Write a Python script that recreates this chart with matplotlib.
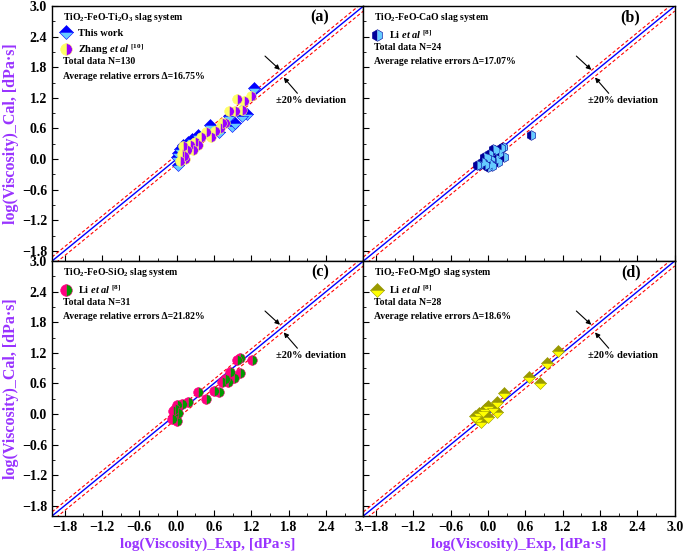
import numpy as np
import matplotlib
matplotlib.use("Agg")
import matplotlib.pyplot as plt
from matplotlib.ticker import MultipleLocator

plt.rcParams['font.family'] = 'Liberation Serif'
plt.rcParams['font.weight'] = 'bold'
plt.rcParams['axes.labelweight'] = 'bold'
plt.rcParams['mathtext.fontset'] = 'custom'
plt.rcParams['mathtext.rm'] = 'Liberation Serif:bold'
plt.rcParams['mathtext.it'] = 'Liberation Serif:italic:bold'
plt.rcParams['mathtext.bf'] = 'Liberation Serif:bold'

# ---- data: (exp, cal) ----
a_work_exp = [0.00, 0.05, 0.19, 0.35, 0.53, 0.89, 1.13, 1.25, 0.03, 0.84, 0.94, 0.10, 0.24, 0.68, 1.05, 0.02, 0.08]
a_work_cal = [0.04, 0.20, 0.34, 0.48, 0.66, 0.64, 0.88, 1.39, -0.12, 0.84, 0.70, 0.27, 0.40, 0.54, 0.84, 0.12, 0.05]
a_zhang_exp = [0.08, 0.13, 0.10, 0.21, 0.29, 0.40, 0.48, 0.56, 0.70, 0.78, 0.84, 0.94, 0.97, 1.08, 1.19,
               1.05, 0.73, 0.27, 0.35, 0.17, 0.62, 0.05, 0.12]
a_zhang_cal = [0.10, 0.00, 0.25, 0.28, 0.34, 0.44, 0.54, 0.44, 0.60, 0.70, 0.94, 0.94, 1.17, 1.13, 1.23,
               0.97, 0.70, 0.18, 0.27, 0.17, 0.56, -0.03, 0.06]
b_exp = [0.69, 0.24, 0.26, 0.08, 0.01, -0.07, -0.15, -0.10, 0.00, 0.13, 0.16, 0.05, -0.02, 0.11,
         0.18, -0.05, -0.18, 0.03, 0.21, 0.06]
b_cal = [0.48, 0.24, 0.04, 0.20, 0.10, 0.04, -0.12, -0.05, -0.15, 0.00, -0.06, -0.02, 0.02, 0.17,
         0.11, -0.12, -0.12, -0.09, 0.21, -0.13]
c_exp = [1.21, 1.02, 0.97, 1.02, 0.92, 0.86, 0.82, 0.73, 0.68, 0.60, 0.47, 0.35, 0.19, 0.08, 0.00,
         -0.05, -0.02, -0.07, 0.00, -0.02, 0.03, 0.77]
c_cal = [1.06, 1.10, 1.06, 0.81, 0.71, 0.83, 0.63, 0.63, 0.43, 0.45, 0.29, 0.43, 0.23, 0.19, 0.17,
         0.06, -0.04, -0.10, -0.14, 0.09, 0.02, 0.68]
d_exp = [1.13, 0.95, 0.84, 0.66, 0.26, 0.15, 0.15, 0.00, -0.05, -0.15, -0.17, -0.11, 0.00, 0.08,
         -0.21, -0.08]
d_cal = [1.23, 1.00, 0.61, 0.73, 0.42, 0.24, 0.03, 0.16, 0.09, 0.02, -0.10, -0.16, -0.05, 0.12,
         -0.03, 0.05]

systems = ["TiO$_2$-FeO-Ti$_2$O$_3$ slag system", "TiO$_2$-FeO-CaO slag system",
           "TiO$_2$-FeO-SiO$_2$ slag system", "TiO$_2$-FeO-MgO slag system"]
totals = ["Total data N=130", "Total data N=24", "Total data N=31", "Total data N=28"]
errors = ["Average relative errors \u0394=16.75%", "Average relative errors \u0394=17.07%",
          "Average relative errors \u0394=21.82%", "Average relative errors \u0394=18.6%"]
letters = ["(a)", "(b)", "(c)", "(d)"]

purple = '#9933FF'

fig, axes = plt.subplots(2, 2, figsize=(6.85, 5.56), dpi=100)
fig.subplots_adjust(left=0.076, right=0.985, top=0.989, bottom=0.072, wspace=0, hspace=0)

series = [
    [(a_work_exp, a_work_cal, 'D', 'top', '#0000FF', '#66CCFF', "This work"),
     (a_zhang_exp, a_zhang_cal, 'o', 'left', '#FFFF66', '#9900FF', r"Zhang $\it{et\ al}$ $^{[10]}$")],
    [(b_exp, b_cal, 'h', 'left', '#000099', '#66CCFF', r"Li $\it{et\ al}$ $^{[8]}$")],
    [(c_exp, c_cal, 'o', 'left', '#FF0080', '#009900', r"Li $\it{et\ al}$ $^{[8]}$")],
    [(d_exp, d_cal, 'D', 'top', '#999900', '#FFFF00', r"Li $\it{et\ al}$ $^{[8]}$")],
]

line = np.array([-2.0, 3.0])
for i, ax in enumerate(axes.flat):
    ax.set_xlim(-2.0, 3.0)
    ax.set_ylim(-2.0, 3.0)
    ax.plot(line, line, color='#0000FF', lw=1.0, zorder=2)
    ax.plot(line, line + np.log10(1.2), color='#FF0000', lw=0.8, ls=(0, (3, 2)), zorder=2)
    ax.plot(line, line + np.log10(0.8), color='#FF0000', lw=0.8, ls=(0, (3, 2)), zorder=2)
    handles = []
    for xs, ys, mk, fs, c1, c2, lab in series[i]:
        h, = ax.plot(xs, ys, ls='none', marker=mk, ms=7 if mk != 'D' else 6, fillstyle=fs,
                     mfc=c1, mfcalt=c2, mec=c1, mew=0.4, label=lab, zorder=3)
        handles.append(h)
    ax.legend(handles=handles, loc='upper left', bbox_to_anchor=(0.0, 0.94), frameon=False,
              prop={'size': 7.5, 'weight': 'bold'}, handletextpad=0.6, labelspacing=0.45,
              borderaxespad=0.3, handlelength=1.2, markerscale=1.2)
    ax.text(0.035, 0.955, systems[i], transform=ax.transAxes, fontsize=7, va='center')
    n = len(series[i])
    y0 = 0.893 - 0.056 * n
    ax.text(0.035, y0, totals[i], transform=ax.transAxes, fontsize=7, va='center')
    ax.text(0.035, y0 - 0.056, errors[i], transform=ax.transAxes, fontsize=7, va='center')
    ax.text(0.89, 0.955, letters[i], transform=ax.transAxes, fontsize=11.5, ha='right', va='center')
    ax.annotate("", xy=(1.66, 1.75), xytext=(1.42, 2.02),
                arrowprops=dict(arrowstyle='-|>', color='black', lw=0.8, mutation_scale=7,
                                shrinkA=0, shrinkB=0))
    ax.annotate("", xy=(1.72, 1.60), xytext=(1.94, 1.29),
                arrowprops=dict(arrowstyle='-|>', color='black', lw=0.8, mutation_scale=7,
                                shrinkA=0, shrinkB=0))
    ax.text(1.6, 1.15, "\u00b120% deviation", fontsize=7.5, va='center')

    ax.xaxis.set_major_locator(MultipleLocator(0.6))
    ax.yaxis.set_major_locator(MultipleLocator(0.6))
    ax.xaxis.set_minor_locator(MultipleLocator(0.3))
    ax.yaxis.set_minor_locator(MultipleLocator(0.3))
    ax.tick_params(which='both', direction='in', top=False, right=False, labelsize=10)
    ax.tick_params(which='major', length=4, width=0.8)
    ax.tick_params(which='minor', length=2, width=0.6)
    for t in ax.get_xticklabels() + ax.get_yticklabels():
        t.set_fontweight('bold')
    for sp in ax.spines.values():
        sp.set_linewidth(1.0)
    row, col = divmod(i, 2)
    if row == 0:
        ax.tick_params(labelbottom=False)
    else:
        ax.set_xlabel("log(Viscosity)_Exp, [dPa\u00b7s]", color=purple, fontsize=11,
                      fontweight='bold', labelpad=3)
    if col == 1:
        ax.tick_params(labelleft=False)
    else:
        ax.set_ylabel("log(Viscosity)_Cal, [dPa\u00b7s]", color=purple, fontsize=11.5,
                      fontweight='bold', labelpad=2)
    if row == 1 and col == 1:
        for t in ax.get_xticklabels():
            t.set_bbox(dict(facecolor='white', edgecolor='none', pad=0))

fig.savefig("out.png", dpi=100)
